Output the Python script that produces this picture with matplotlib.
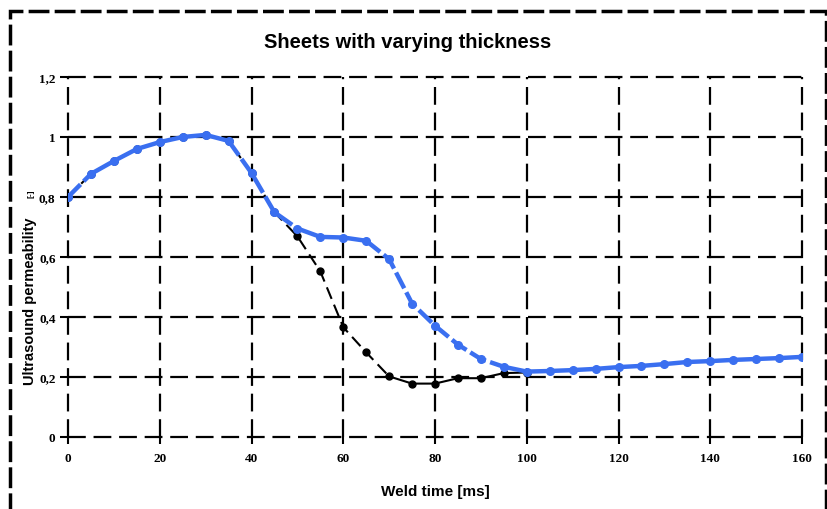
import matplotlib
matplotlib.use("Agg")
import matplotlib.pyplot as plt
from matplotlib.patches import Rectangle

# ---- data ----
weld_time = [0, 5, 10, 15, 20, 25, 30, 35, 40, 45, 50, 55, 60, 65, 70, 75, 80,
             85, 90, 95, 100, 105, 110, 115, 120, 125, 130, 135, 140, 145, 150, 155, 160]
blue_perm = [0.800, 0.877, 0.920, 0.960, 0.983, 1.000, 1.007, 0.987, 0.880, 0.749,
             0.695, 0.667, 0.665, 0.654, 0.593, 0.445, 0.371, 0.308, 0.260, 0.234,
             0.218, 0.220, 0.223, 0.227, 0.233, 0.237, 0.243, 0.250, 0.253, 0.257,
             0.260, 0.263, 0.267]
black_time = [0, 5, 10, 15, 20, 25, 30, 35, 40, 45, 50, 55, 60, 65, 70, 75, 80,
              85, 90, 95, 100]
black_perm = [0.800, 0.877, 0.920, 0.960, 0.983, 1.000, 1.007, 0.987, 0.880, 0.749,
              0.669, 0.552, 0.366, 0.282, 0.202, 0.178, 0.178, 0.196, 0.196, 0.213, 0.215]
x_ticks = [0, 20, 40, 60, 80, 100, 120, 140, 160]
y_ticks = [0, 0.2, 0.4, 0.6, 0.8, 1.0, 1.2]
y_tick_labels = ["0", "0,2", "0,4", "0,6", "0,8", "1", "1,2"]

title = "Sheets with varying thickness"
xlabel = "Weld time [ms]"
ylabel = "Ultrasound permeability"

BLUE = "#3a6ff0"
SANS = ["Liberation Sans", "DejaVu Sans"]
SERIF = ["Liberation Serif", "DejaVu Serif"]

fig = plt.figure(figsize=(8.28, 5.10), dpi=100)
ax = fig.add_axes([68 / 828, 1 - 438 / 510, (802 - 68) / 828, (438 - 78) / 510])

ax.set_xlim(0, 160)
ax.set_ylim(0, 1.2)
for s in ax.spines.values():
    s.set_visible(False)

ax.set_xticks(x_ticks)
ax.set_xticklabels([str(v) for v in x_ticks])
ax.set_yticks(y_ticks)
ax.set_yticklabels(y_tick_labels)
for lab in ax.get_xticklabels() + ax.get_yticklabels():
    lab.set_fontfamily(SERIF)
    lab.set_fontweight("bold")
    lab.set_fontsize(9.5)
ax.tick_params(axis="x", direction="out", length=5, width=1.5, pad=6, color="black")
ax.tick_params(axis="y", direction="out", length=6, width=1.5, pad=3, color="black")

ax.grid(True, color="black", linewidth=1.6, linestyle=(0, (8, 3.5)))
for gl in ax.get_xgridlines() + ax.get_ygridlines():
    gl.set_clip_on(False)
ax.set_axisbelow(True)

# black series (beneath)
n_dash_end = black_time.index(70) + 1
ax.plot(black_time[:n_dash_end], black_perm[:n_dash_end], color="black", lw=1.5,
        dashes=(6, 3), zorder=3)
ax.plot(black_time[n_dash_end - 1:], black_perm[n_dash_end - 1:], color="black", lw=1.5,
        zorder=3)
ax.plot(black_time, black_perm, linestyle="none", marker="o", ms=5, color="black", zorder=3)

# blue series: pieces solid / dashed
pieces = [(0, 1, True), (1, 7, False), (7, 10, True), (10, 13, False),
          (13, 19, True), (19, len(weld_time) - 1, False)]
for a, b, dashed in pieces:
    xs = weld_time[a:b + 1]
    ys = blue_perm[a:b + 1]
    if dashed:
        ax.plot(xs, ys, color=BLUE, lw=3.2, dashes=(4, 1), zorder=4,
                solid_capstyle="butt", dash_capstyle="butt")
    else:
        ax.plot(xs, ys, color=BLUE, lw=3.2, zorder=4, solid_capstyle="round")
ax.plot(weld_time, blue_perm, linestyle="none", marker="o", ms=5.5, color=BLUE, zorder=5)

fig.text(408 / 828, 1 - 42 / 510, title, ha="center", va="center",
         fontsize=14.5, fontweight="bold", family=SANS)
fig.text(435 / 828, 1 - 492 / 510, xlabel, ha="center", va="center",
         fontsize=11, fontweight="bold", family=SANS)
fig.text(30 / 828, 1 - 301 / 510, ylabel, ha="center", va="center", rotation=90,
         fontsize=10.5, fontweight="bold", family=SANS)
fig.text(31 / 828, 1 - 194 / 510, "[-]", ha="center", va="center", rotation=90,
         fontsize=6, fontweight="bold", family=SANS)

border = Rectangle((10 / 828, -0.02), (826 - 10) / 828, 1 - 12 / 510 + 0.02,
                   transform=fig.transFigure, fill=False, edgecolor="black",
                   linewidth=2.5, linestyle=(0, (6, 1.5)), clip_on=False)
fig.add_artist(border)

fig.savefig("out.png", dpi=100)
